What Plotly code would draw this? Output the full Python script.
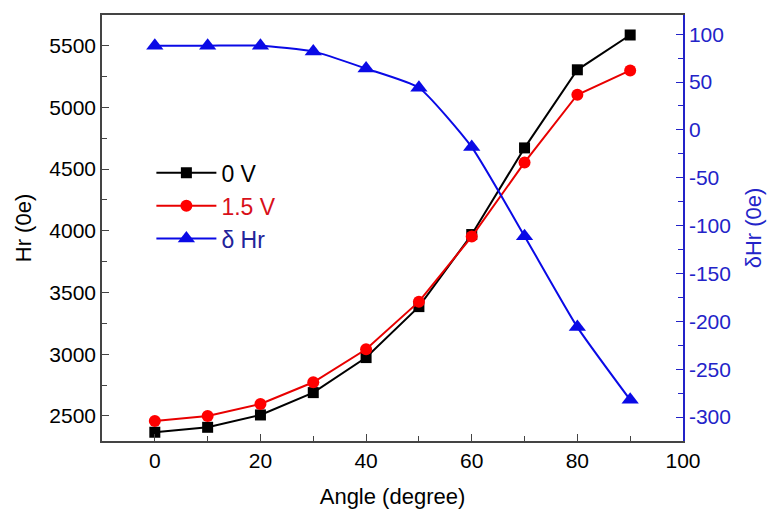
import plotly.graph_objects as go

angles = [0, 10, 20, 30, 40, 50, 60, 70, 80, 90]
hr_0v = [2368, 2408, 2508, 2689, 2973, 3386, 3970, 4672, 5305, 5587]
hr_15v = [2459, 2500, 2597, 2773, 3040, 3426, 3954, 4554, 5103, 5300]
delta_hr = [88, 88, 88, 82, 64, 44, -18, -111, -206, -282]
right_ticks = [100, 50, 0, -50, -100, -150, -200, -250, -300]
right_labels = ["100", "50", "0", "-50", "-100", "-150", "-200", "-250", "-300"]

FONT = "Liberation Sans, Arial, sans-serif"
BLUE = "#0a0ae6"
AXBLUE = "#2323c8"

fig = go.Figure()
fig.add_trace(go.Scatter(
    x=angles, y=hr_0v, mode="lines+markers", name="0 V",
    line=dict(color="black", width=2),
    marker=dict(symbol="square", size=11, color="black"),
))
fig.add_trace(go.Scatter(
    x=angles, y=hr_15v, mode="lines+markers",
    name="<span style='color:#d8101a'>1.5 V</span>",
    line=dict(color="#e80000", width=2),
    marker=dict(symbol="circle", size=12, color="#ff0000"),
))
fig.add_trace(go.Scatter(
    x=angles, y=delta_hr, mode="lines+markers", yaxis="y2",
    name="<span style='color:#23239a'>δ Hr</span>",
    line=dict(color=BLUE, width=2, shape="spline", smoothing=0.5),
    marker=dict(symbol="triangle-up", size=15, color=BLUE),
))

fig.update_layout(
    width=774, height=519,
    margin=dict(l=102, r=91, t=15, b=78),
    paper_bgcolor="white", plot_bgcolor="white",
    font=dict(family=FONT, size=21, color="black"),
    showlegend=True,
    legend=dict(x=0.085, y=0.68, xanchor="left", yanchor="top",
                bgcolor="rgba(0,0,0,0)", font=dict(size=23),
                tracegroupgap=0, itemwidth=60),
    xaxis=dict(
        range=[-10, 100], dtick=20, tick0=0,
        ticks="inside", ticklen=7, tickwidth=1, tickcolor="#444",
        minor=dict(ticks="inside", ticklen=5, dtick=10, tickcolor="#444"),
        showline=True, linecolor="#444", linewidth=1.5, mirror=True,
        showgrid=False, zeroline=False,
        title=dict(text="Angle (degree)", font=dict(size=22), standoff=18),
    ),
    yaxis=dict(
        range=[2297, 5749], dtick=500, tick0=0,
        ticks="inside", ticklen=7, tickwidth=1, tickcolor="#444",
        minor=dict(ticks="inside", ticklen=5, dtick=250, tickcolor="#444"),
        showline=True, linecolor="#444", linewidth=1.5,
        showgrid=False, zeroline=False,
        title=dict(text="Hr (0e)", font=dict(size=22), standoff=12),
    ),
    yaxis2=dict(
        overlaying="y", side="right",
        range=[-325, 120], tickvals=right_ticks, ticktext=right_labels,
        ticks="inside", ticklen=7, tickwidth=1, tickcolor=AXBLUE,
        minor=dict(ticks="inside", ticklen=5, dtick=25, tick0=0, tickcolor=AXBLUE),
        showline=True, linecolor=AXBLUE, linewidth=1.5,
        showgrid=False, zeroline=False,
        tickfont=dict(color=AXBLUE),
        title=dict(text="δHr (0e)", font=dict(size=22, color=AXBLUE), standoff=16),
    ),
)

fig.write_html("out.html")
